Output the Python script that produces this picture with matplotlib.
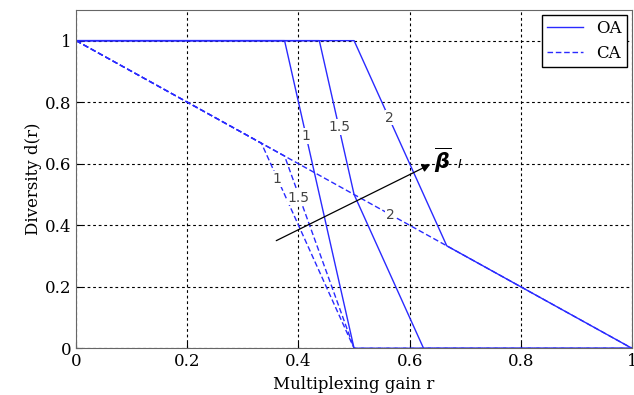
import matplotlib.pyplot as plt
import numpy as np

# DMT curves (multiplexing gain r, diversity d) for beta = 1, 1.5, 2
oa_r = {'1': [0, 0.375, 0.5, 1], '1.5': [0, 0.4375, 0.5, 0.625, 1], '2': [0, 0.5, 2 / 3, 1]}
oa_d = {'1': [1, 1, 0, 0], '1.5': [1, 1, 0.5, 0, 0], '2': [1, 1, 1 / 3, 0]}
ca_r = {'1': [0, 1 / 3, 0.5, 1], '1.5': [0, 0.375, 0.5, 1], '2': [0, 1]}
ca_d = {'1': [1, 2 / 3, 0, 0], '1.5': [1, 0.625, 0, 0], '2': [1, 0]}

# curve label positions (r, d)
oa_lab = {'1': (0.414, 0.69), '1.5': (0.474, 0.72), '2': (0.564, 0.75)}
ca_lab = {'1': (0.362, 0.55), '1.5': (0.40, 0.49), '2': (0.565, 0.435)}

xticks = [0, 0.2, 0.4, 0.6, 0.8, 1]
yticks = [0, 0.2, 0.4, 0.6, 0.8, 1]

plt.rcParams['font.family'] = 'DejaVu Serif'

fig = plt.figure(figsize=(6.34, 3.95), dpi=100)
ax = fig.add_axes([0.12, 0.118, 0.877, 0.857])

blue = '#2a2aff'
for k in ca_r:
    ax.plot(ca_r[k], ca_d[k], color=blue, lw=1, dashes=(4, 2),
            label='CA' if k == '1' else None)
for k in oa_r:
    ax.plot(oa_r[k], oa_d[k], color=blue, lw=1, label='OA' if k == '1' else None)

for labs in (oa_lab, ca_lab):
    for k, (x, y) in labs.items():
        ax.text(x, y, k, ha='center', va='center', fontsize=10, color='#444444',
                family='DejaVu Sans',
                bbox=dict(facecolor='white', edgecolor='none', pad=0.5))

# beta arrow
ax.annotate('', xy=(0.637, 0.598), xytext=(0.36, 0.35),
            arrowprops=dict(arrowstyle='-|>', color='black', lw=0.9,
                            mutation_scale=12, shrinkA=0, shrinkB=0))
ax.text(0.66, 0.612, r'$\overline{\boldsymbol{\beta}}$', fontsize=15,
        ha='center', va='center')
ax.text(0.69, 0.598, r'$I$', fontsize=9, ha='center', va='center')

ax.set_xlim(0, 1)
ax.set_ylim(0, 1.1)
ax.set_xticks(xticks)
ax.set_yticks(yticks)
ax.set_xticklabels(['0', '0.2', '0.4', '0.6', '0.8', '1'])
ax.set_yticklabels(['0', '0.2', '0.4', '0.6', '0.8', '1'])
ax.tick_params(direction='in', length=4, labelsize=12, colors='black')
ax.grid(True, color='black', linestyle=(0, (2.5, 2.5)), lw=0.8)
for s in ax.spines.values():
    s.set_color('#666666')

ax.set_xlabel('Multiplexing gain r', fontsize=12, labelpad=4)
ax.set_ylabel('Diversity d(r)', fontsize=12, labelpad=2)

handles, labels = ax.get_legend_handles_labels()
order = [labels.index('OA'), labels.index('CA')]
ax.legend([handles[i] for i in order], ['OA', 'CA'], loc='upper right',
          fontsize=12, fancybox=False, edgecolor='black', framealpha=1,
          borderpad=0.3, handlelength=2.2, borderaxespad=0.3)

fig.savefig('out.png', dpi=100)
